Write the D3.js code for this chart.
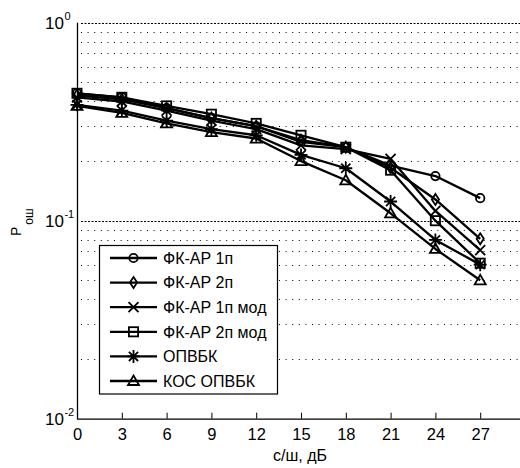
<!DOCTYPE html>
<html><head><meta charset="utf-8">
<script src="https://cdn.jsdelivr.net/npm/d3@7"></script>
<style>
html,body{margin:0;padding:0;background:#fff;}
svg{display:block;}
text{font-family:"Liberation Sans",Arial,sans-serif;fill:#000;}
.narrow{font-family:"Liberation Sans Narrow","Arial Narrow","Liberation Sans",Arial,sans-serif;}
</style></head>
<body>
<svg id="chart" width="520" height="468"></svg>
<script>
// ---- data ----
const snr = [0, 3, 6, 9, 12, 15, 18, 21, 24, 27];
const xTicks = [0, 3, 6, 9, 12, 15, 18, 21, 24, 27];
const yTickExp = [0, -1, -2];
const seriesNames = ["ФК-АР 1п", "ФК-АР 2п", "ФК-АР 1п мод", "ФК-АР 2п мод", "ОПВБК", "КОС ОПВБК"];
const fkar1    = [0.44, 0.42, 0.37, 0.33, 0.30, 0.25, 0.235, 0.19, 0.168, 0.13];
const fkar2    = [0.43, 0.41, 0.37, 0.33, 0.30, 0.255, 0.235, 0.185, 0.128, 0.081];
const fkar1mod = [0.42, 0.40, 0.36, 0.32, 0.29, 0.24, 0.23, 0.205, 0.112, 0.071];
const fkar2mod = [0.44, 0.42, 0.38, 0.345, 0.31, 0.27, 0.235, 0.18, 0.10, 0.061];
const opvbk    = [0.385, 0.36, 0.32, 0.29, 0.27, 0.215, 0.184, 0.125, 0.08, 0.06];
const kos      = [0.38, 0.35, 0.31, 0.28, 0.26, 0.20, 0.16, 0.109, 0.072, 0.05];
const seriesValues = [fkar1, fkar2, fkar1mod, fkar2mod, opvbk, kos];
const markerTypes = ["circle", "diamond", "x", "square", "asterisk", "triangle"];

(function () {
const svg = d3.select("#chart");
const mLeft = 77, mTop = 22.7, mBottom = 418.7, mRight = 525;
const x = d3.scaleLinear().domain([0, 30]).range([mLeft, mRight]);
const y = d3.scaleLog().domain([0.01, 1]).range([mBottom, mTop]);

// grid
const g = svg.append("g");
const minorVals = [];
for (let d = -2; d < 0; d++) for (let k = 2; k <= 9; k++) minorVals.push(k * Math.pow(10, d));
g.selectAll(".minor").data(minorVals).enter().append("line")
  .attr("x1", mLeft + 4).attr("x2", 520)
  .attr("y1", d => Math.round(y(d)) + 0.5).attr("y2", d => Math.round(y(d)) + 0.5)
  .attr("stroke", "#000").attr("stroke-width", 1).attr("stroke-dasharray", "1,5.6");
g.selectAll(".major").data([0.1, 1]).enter().append("line")
  .attr("x1", mLeft + 4).attr("x2", 520)
  .attr("y1", d => Math.round(y(d)) + 0.5).attr("y2", d => Math.round(y(d)) + 0.5)
  .attr("stroke", "#000").attr("stroke-width", 1).attr("stroke-dasharray", "2,1.5");

// axes lines
svg.append("line").attr("x1", mLeft + 0.5).attr("x2", mLeft + 0.5).attr("y1", y(1)).attr("y2", mBottom)
  .attr("stroke", "#000").attr("stroke-width", 1.3);
svg.append("line").attr("x1", mLeft).attr("x2", 520).attr("y1", mBottom + 0.5).attr("y2", mBottom + 0.5)
  .attr("stroke", "#000").attr("stroke-width", 1.3);

// x ticks
const xAxis = d3.axisBottom(x).tickValues(xTicks).tickSize(0).tickPadding(0);
const xg = svg.append("g").attr("transform", `translate(0,${mBottom})`).call(xAxis);
xg.select(".domain").remove();
xg.selectAll(".tick").append("line").attr("y1", 0).attr("y2", -6).attr("stroke", "#000");
xg.selectAll(".tick text").attr("class", "narrow").attr("y", 21.5).attr("dy", 0)
  .style("font-size", "16.5px")
  .style("font-family", "'Liberation Sans Narrow','Arial Narrow','Liberation Sans',Arial,sans-serif")
  .attr("fill", "#000");

// y tick labels
yTickExp.forEach(e => {
  const t = svg.append("text").attr("class", "narrow").attr("x", 45).attr("y", y(Math.pow(10, e)) + 6)
    .style("font-size", "17px");
  t.append("tspan").text("10");
  t.append("tspan").attr("dx", 0.5).attr("dy", -9).style("font-size", "11px").text(String(e));
});

// axis labels
svg.append("text").attr("x", 300).attr("y", 461).attr("text-anchor", "middle")
  .style("font-size", "16px").text("с/ш, дБ");
const yl = svg.append("text").attr("class", "narrow").attr("transform", "translate(21,236) rotate(-90)")
  .style("font-size", "14px");
yl.append("tspan").text("Р");
yl.append("tspan").attr("dx", 2).attr("dy", 12).style("font-size", "12px").text("ош");

// marker drawing
function drawMarker(sel, type, cx, cy) {
  const m = sel.append("g").attr("transform", `translate(${cx},${cy})`)
    .attr("fill", "none").attr("stroke", "#000").attr("stroke-width", 1.8);
  if (type === "circle") m.append("circle").attr("r", 4.2);
  else if (type === "diamond") m.append("path").attr("d", "M0,-5.5L3.6,0L0,5.5L-3.6,0Z");
  else if (type === "x") m.append("path").attr("d", "M-5,-5L5,5M-5,5L5,-5");
  else if (type === "square") m.append("rect").attr("x", -4.6).attr("y", -4.6).attr("width", 9.2).attr("height", 9.2);
  else if (type === "asterisk") m.append("path").attr("d", "M0,-6.5L0,6.5M-6.5,0L6.5,0M-4.6,-4.6L4.6,4.6M-4.6,4.6L4.6,-4.6");
  else if (type === "triangle") m.append("path").attr("d", "M0,-5.5L5.5,4L-5.5,4Z");
}

// series
const line = d3.line().x(d => x(d[0])).y(d => y(d[1]));
seriesValues.forEach((vals, i) => {
  const pts = snr.map((s, j) => [s, vals[j]]);
  const sg = svg.append("g");
  sg.append("path").attr("d", line(pts)).attr("fill", "none").attr("stroke", "#000")
    .attr("stroke-width", 2.3).attr("stroke-linejoin", "round");
  pts.forEach(p => drawMarker(sg, markerTypes[i], x(p[0]), y(p[1])));
});

// legend
const lg = svg.append("g");
lg.append("rect").attr("x", 99.5).attr("y", 245.5).attr("width", 178).attr("height", 148.5)
  .attr("fill", "#fff").attr("stroke", "#000").attr("stroke-width", 1.2);
seriesNames.forEach((name, i) => {
  const ry = 258 + i * 24.6;
  lg.append("line").attr("x1", 110).attr("x2", 157).attr("y1", ry).attr("y2", ry)
    .attr("stroke", "#000").attr("stroke-width", 2.3);
  drawMarker(lg, markerTypes[i], 133.5, ry);
  lg.append("text").attr("x", 163).attr("y", ry + 5.8).style("font-size", "16px").text(name);
});
})();
</script>
</body></html>
